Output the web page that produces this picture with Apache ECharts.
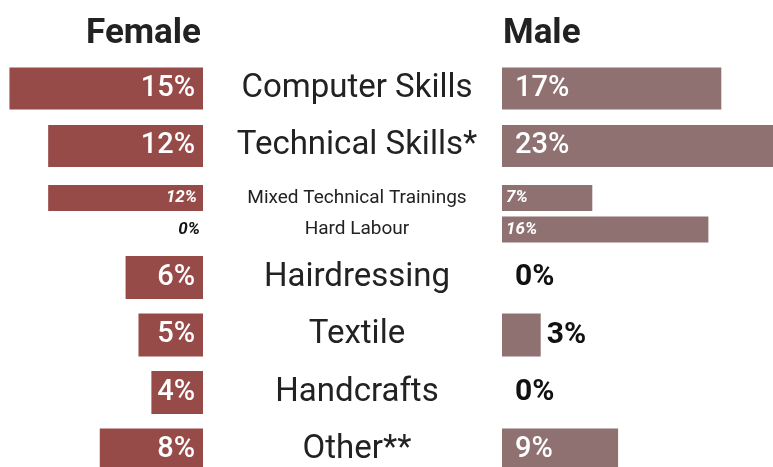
<!DOCTYPE html>
<html>
<head>
<meta charset="utf-8">
<script src="https://cdn.jsdelivr.net/npm/echarts@6/dist/echarts.min.js"></script>
<style>
html, body { margin: 0; padding: 0; background: #fff; }
#main { width: 773px; height: 467px; }
</style>
</head>
<body>
<div id="main"></div>
<script>
// rows are split in three bands: big rows, the two small rows, big rows again
var topRows = ['Computer Skills', 'Technical Skills*'];
var topFemale = [15, 12];
var topMale = [17, 23];

var midRows = ['Mixed Technical Trainings', 'Hard Labour'];
var midFemale = [12, 0];
var midMale = [7, 16];

var lowRows = ['Hairdressing', 'Textile', 'Handcrafts', 'Other**'];
var lowFemale = [6, 5, 4, 8];
var lowMale = [0, 3, 0, 9];

var FONT = 'Roboto';
var femaleColor = '#974b49';
var maleColor = '#8f7172';

var bands = [
    { rows: topRows, female: topFemale, male: topMale, top: 59.75, height: 115, bar: 42, size: 33, small: false },
    { rows: midRows, female: midFemale, male: midMale, top: 182.25, height: 63, bar: 26, size: 19, small: true },
    { rows: lowRows, female: lowFemale, male: lowMale, top: 248.75, height: 230, bar: 43, size: 33, small: false }
];

var myChart = echarts.init(document.getElementById('main'));

function labelFor(v, side, band) {
    var base = {
        show: true,
        formatter: '{c}%',
        fontFamily: FONT,
        fontSize: band.small ? 17 : 29,
        fontWeight: band.small ? 'bold' : 500,
        fontStyle: band.small ? 'italic' : 'normal',
        color: '#fff',
        padding: [3, 0, 0, 0]
    };
    if (side === 'female') {
        base.position = 'insideRight';
        base.distance = band.small ? 6 : 8;
        if (v === 0) {
            base.color = '#111';
            base.distance = 3;
        }
    } else {
        base.position = 'insideLeft';
        base.distance = band.small ? 4 : 13;
        if (v < 4) {
            base.position = 'right';
            base.color = '#111';
            base.fontWeight = 'bold';
            base.fontSize = 30;
            base.distance = v === 0 ? 13 : 6;
        }
    }
    return base;
}

var grid = [], xAxis = [], yAxis = [], series = [];
bands.forEach(function (band, i) {
    var li = i * 2, ri = i * 2 + 1;
    grid.push({ left: 3, width: 200, top: band.top, height: band.height, outerBoundsMode: 'none' });
    grid.push({ left: 502, width: 322.5, top: band.top, height: band.height, outerBoundsMode: 'none' });
    xAxis.push({ gridIndex: li, type: 'value', min: 0, max: 15.5, inverse: true, show: false });
    xAxis.push({ gridIndex: ri, type: 'value', min: 0, max: 25, show: false });
    yAxis.push({ gridIndex: li, type: 'category', data: band.rows, inverse: true, show: false });
    yAxis.push({
        gridIndex: ri, type: 'category', data: band.rows, inverse: true,
        axisLine: { show: false }, axisTick: { show: false }, splitLine: { show: false },
        axisLabel: {
            margin: 145, align: 'center', color: '#222',
            fontFamily: FONT, fontSize: band.size,
            padding: band.small ? [2, 0, 0, 0] : [6, 0, 0, 0]
        }
    });
    series.push({
        name: 'Female', type: 'bar', xAxisIndex: li, yAxisIndex: li,
        barWidth: band.bar, itemStyle: { color: femaleColor },
        data: band.female.map(function (v) { return { value: v, label: labelFor(v, 'female', band) }; })
    });
    series.push({
        name: 'Male', type: 'bar', xAxisIndex: ri, yAxisIndex: ri,
        barWidth: band.bar, itemStyle: { color: maleColor },
        data: band.male.map(function (v) { return { value: v, label: labelFor(v, 'male', band) }; })
    });
});

var titleStyle = { fontFamily: FONT, fontSize: 35, fontWeight: 'bold', color: '#222' };
var option = {
    animation: false,
    title: [
        { text: 'Female', right: 572, top: 17, padding: 0, textStyle: titleStyle },
        { text: 'Male', left: 503, top: 17, padding: 0, textStyle: titleStyle }
    ],
    grid: grid,
    xAxis: xAxis,
    yAxis: yAxis,
    series: series
};
myChart.setOption(option);
</script>
</body>
</html>
